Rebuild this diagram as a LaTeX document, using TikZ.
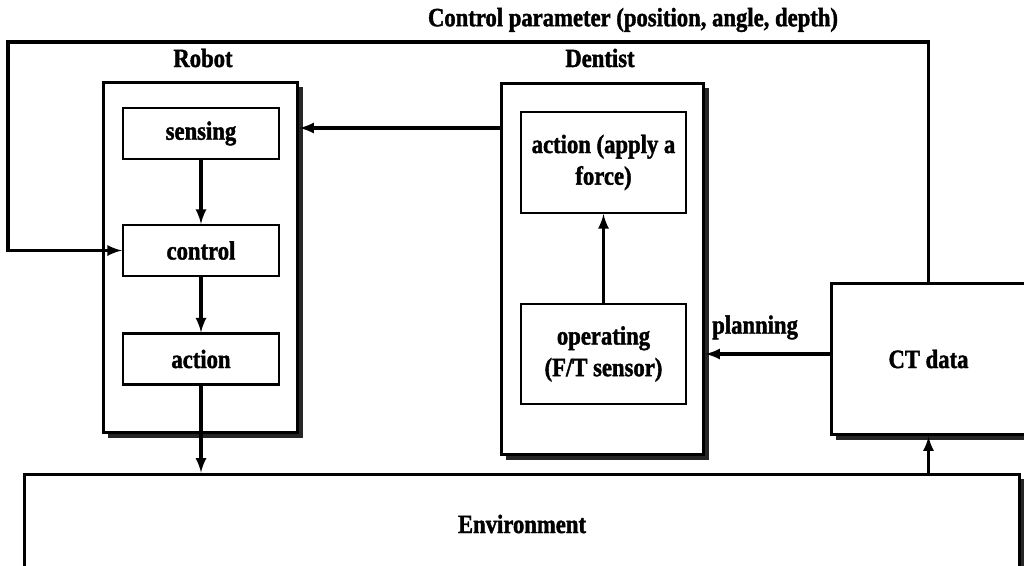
\documentclass[tikz,border=0pt]{standalone}
\usepackage{fontspec}
\setmainfont{Liberation Serif}[FakeStretch=0.86, FakeBold=1.5]
\usetikzlibrary{arrows,shadows}

\tikzset{
  blk/.style={draw, line width=1.7pt, fill=white, inner sep=0pt,
    drop shadow={shadow xshift=3pt, shadow yshift=-3pt, opacity=.85, fill=black}},
  sub/.style={draw, line width=1.3pt, fill=white, inner sep=0pt, align=center},
  lbl/.style={font=\fontsize{15}{18}\selectfont\bfseries},
  conn/.style={->, line width=1.8pt}
}

\begin{document}
\begin{tikzpicture}[x=0.02cm, y=-0.02cm, >=latex, every node/.style={lbl}]
\clip (0,0) rectangle (1024,565);

                 \node [blk, minimum width=19.92cm, minimum height=2cm] at (522,524) (env) {Environment};
              \node [blk, minimum width=3.9cm, minimum height=7.02cm] at (200.5,257.5) (robot) {};
                   \node [blk, minimum width=4.06cm, minimum height=7.44cm] at (602.5,269) (dentist) {};
                       \node [blk, minimum width=3.9cm, minimum height=3.04cm] at (928.5,359) (ct) {CT data};
                        \node [sub, minimum width=3.12cm, minimum height=1.02cm] at (201,133.5) (sensing) {sensing};
                        \node [sub, minimum width=3.12cm, minimum height=1.02cm] at (201,250.5) (control) {control};
                          \node [sub, minimum width=3.12cm, minimum height=1.02cm] at (201,359) (act) {action};
                           \node [sub, minimum width=3.3cm, minimum height=2.02cm] at (603.5,162.5) (force) {action (apply a\\ force)};
                           \node [sub, minimum width=3.3cm, minimum height=2cm] at (603.5,354) (oper) {operating\\ (F/T sensor)};
                           \node at (203,58) (rlab) {Robot};
                           \node at (600,58) (dlab) {Dentist};
                           \node at (633,20) (plab) {Control parameter (position, angle, depth)};
                           \coordinate (top) at (8,42);
                           \coordinate (fb) at (0,128);
%
\draw[conn] (sensing) -- (control);
\draw[conn] (control) -- (act);
\draw[conn] (act) -- (act |- env.north);
\draw[conn] (oper) -- (force);
\draw[conn] (dentist.west |- fb) -- (robot.east |- fb);
\draw[conn] (ct.west |- oper) -- node[above=4pt, pos=.6] {planning} (dentist.east |- oper);
\draw[conn] (ct.south |- env.north) -- (ct.south);
\draw[conn] (ct.north) |- (top) |- (control.west);
%

\end{tikzpicture}
\end{document}
